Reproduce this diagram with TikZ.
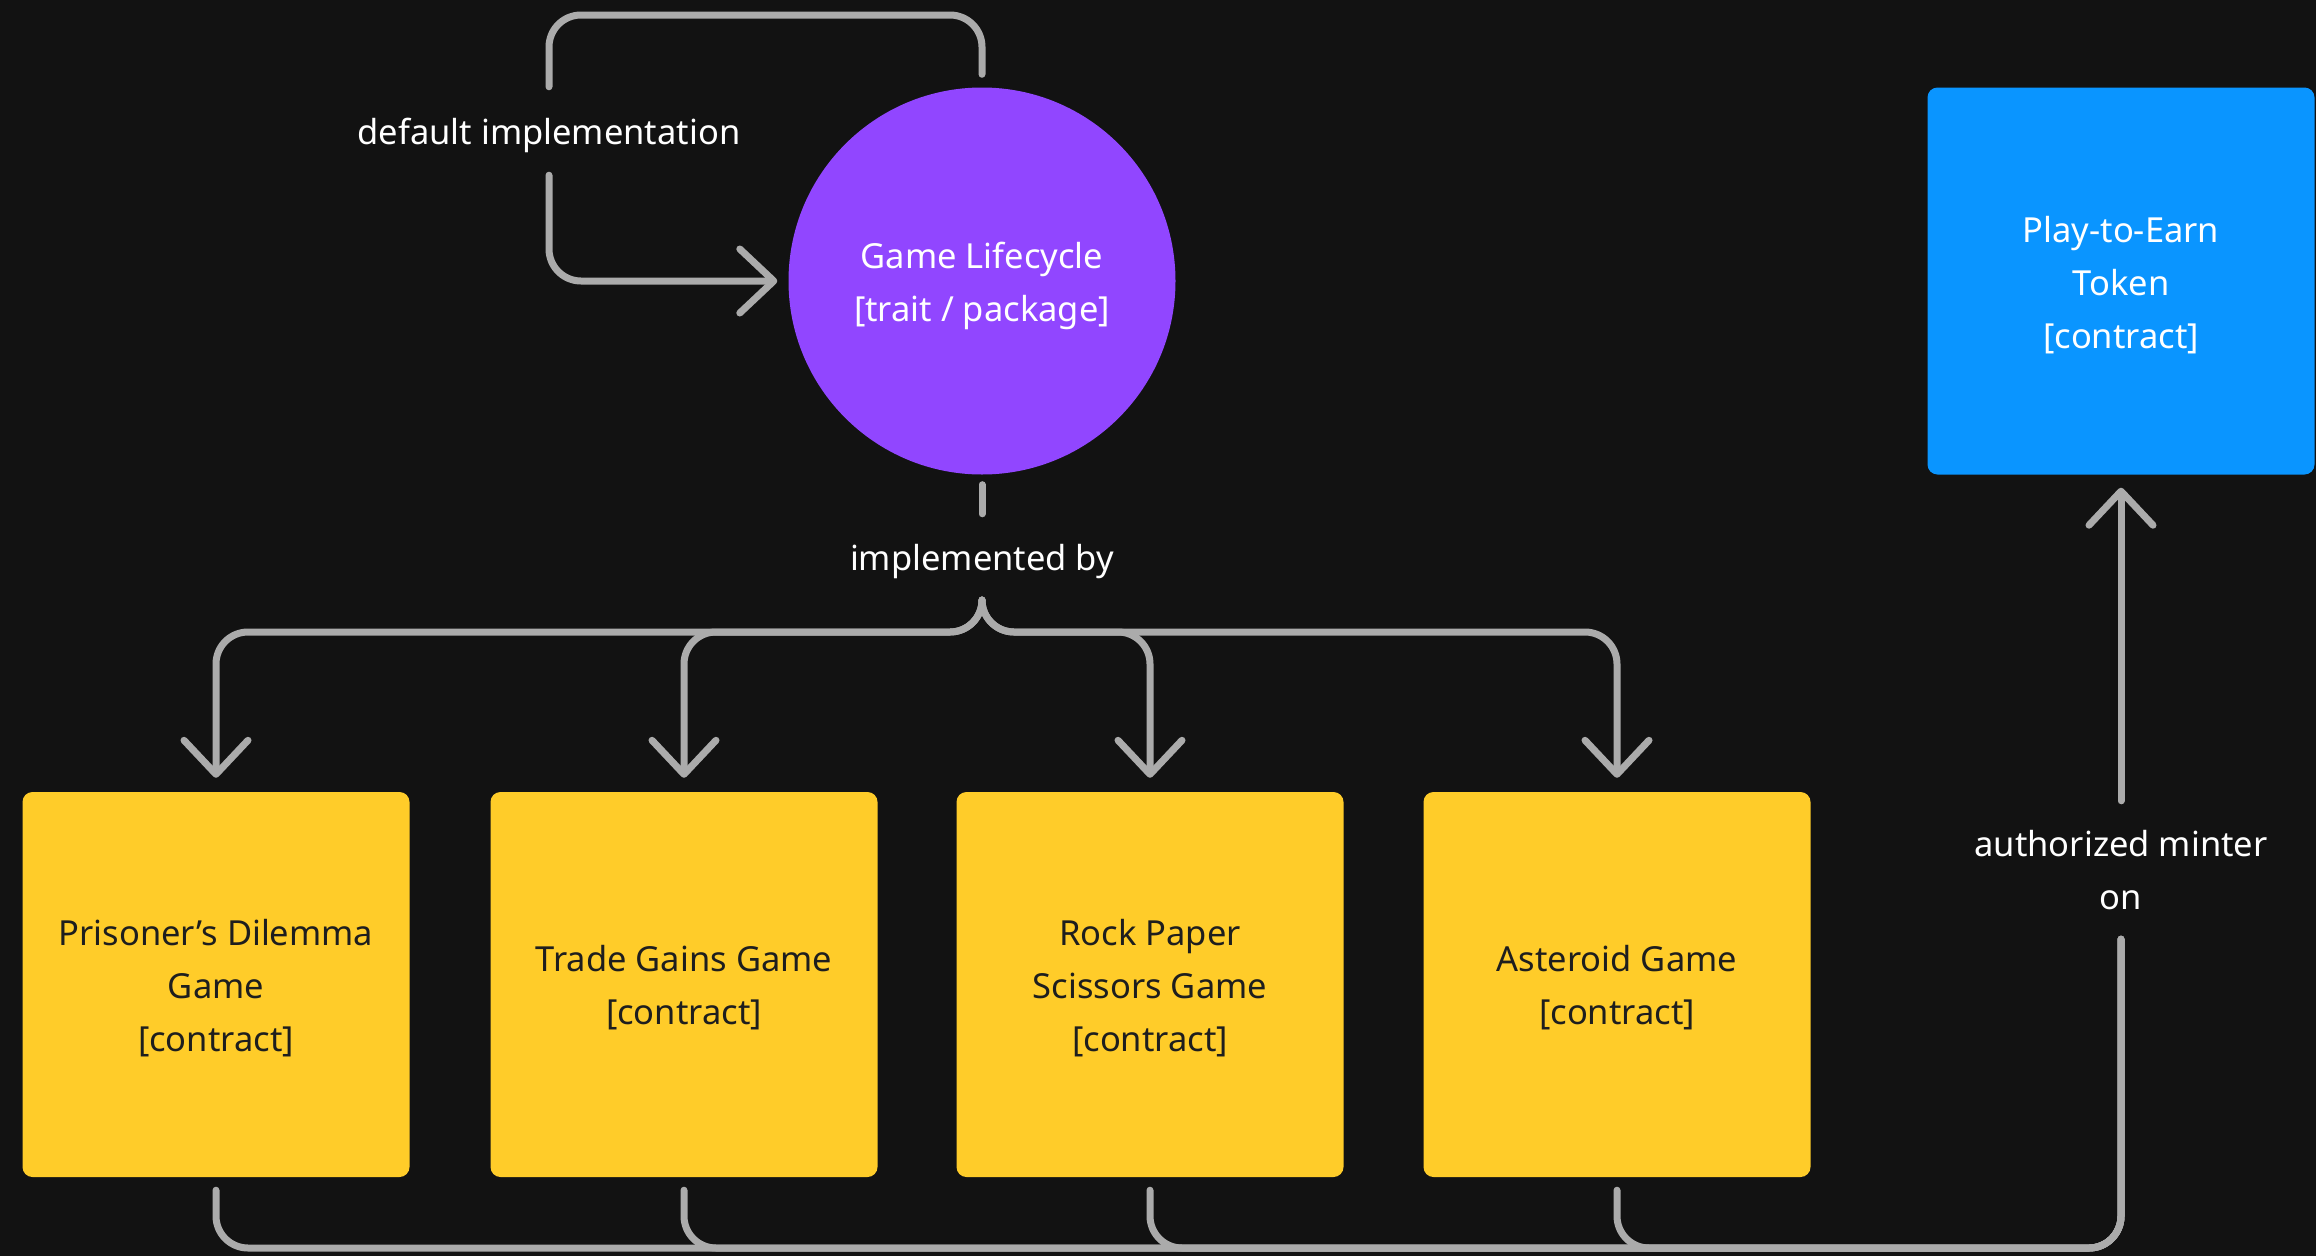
\documentclass[tikz,border=0pt]{standalone}
\usepackage{fontspec}
\setmainfont{Noto Sans}
\usetikzlibrary{arrows.meta}
\definecolor{bg}{HTML}{121212}
\definecolor{lin}{HTML}{ABABAB}
\definecolor{purp}{HTML}{9146FF}
\definecolor{yel}{HTML}{FFCC29}
\definecolor{blu}{HTML}{0A95FF}
\definecolor{dark}{HTML}{1E1E1E}
\begin{document}
\begin{tikzpicture}[x=1pt,y=-1pt,
  every node/.style={font=\fontsize{34.5}{53}\selectfont, align=center},
  box/.style={rectangle, rounded corners=10pt, minimum width=387pt, minimum height=385pt, inner sep=0pt},
  game/.style={box, fill=yel, text=dark},
  lbl/.style={text=white, inner sep=0pt},
  oneline/.style={text height=34pt, text depth=8pt},
  twoline/.style={text height=88pt, text depth=8pt},
  threeline/.style={text height=142pt, text depth=8pt},
  conn/.style={draw=lin, line width=7pt, line cap=round, line join=round, rounded corners=32pt},
  arr/.style={conn, -{Straight Barb[length=34pt, width=64pt, round]}},
]
\fill[bg] (0,0) rectangle (2316,1256);
\useasboundingbox (0,0) rectangle (2316,1256);

\node[circle, fill=purp, minimum size=387pt, inner sep=0pt, text=white, twoline] (life) at (982,281) {Game Lifecycle\\{[trait / package]}};
\node[box, minimum height=387pt, fill=blu, text=white, threeline] (token) at (2121,281) {Play-to-Earn\\Token\\{[contract]}};

\node[game, threeline] (g1) at (216,984.5) {Prisoner’s Dilemma\\Game\\{[contract]}};
\node[game, twoline] (g2) at (684,984.5) {Trade Gains Game\\{[contract]}};
\node[game, threeline] (g3) at (1150,984.5) {Rock Paper\\Scissors Game\\{[contract]}};
\node[game, twoline] (g4) at (1617,984.5) {Asteroid Game\\{[contract]}};

\node[lbl, oneline, minimum height=88pt] (dflt) at (549,131) {default implementation};
\node[lbl, oneline, minimum height=86pt] (impl) at (982,557) {implemented by};
\node[lbl, minimum height=138pt] (auth) at (2121,870) {authorized minter\\on};

\coordinate (topL) at (549,15);
\coordinate (split) at (982,632);
\coordinate (botR) at (2121,1248);

\draw[conn] ([yshift=13pt]life.north) |- (topL) -- (dflt.north);
\draw[arr] (dflt.south) |- ([xshift=-11pt]life.west);
\draw[conn] ([yshift=-10pt]life.south) -- (impl.north);
\foreach \g in {g1,g2,g3,g4} {
  \draw[arr] (impl.south) -- (split) -| ([yshift=14pt]\g.north);
  \draw[conn] ([yshift=-13pt]\g.south) |- (botR) -- (auth.south);
}
\draw[arr] (auth.north) -- ([yshift=-13pt]token.south);
\end{tikzpicture}
\end{document}
